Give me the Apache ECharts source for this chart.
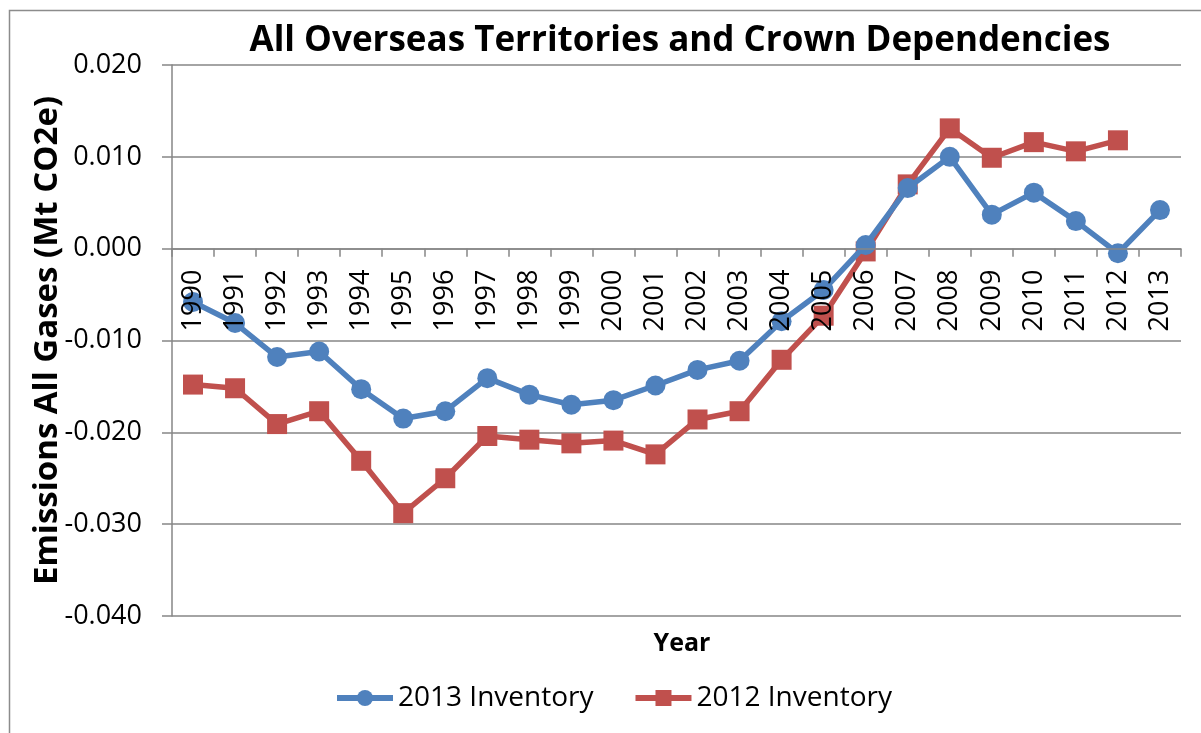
<!DOCTYPE html>
<html>
<head>
<meta charset="utf-8">
<script src="https://cdn.jsdelivr.net/npm/echarts@6/dist/echarts.min.js"></script>
<style>html,body{margin:0;padding:0;background:#fff;}#c{width:1201px;height:733px;}</style>
</head>
<body>
<div id="c"></div>
<script>
const years = ['1990','1991','1992','1993','1994','1995','1996','1997','1998','1999','2000','2001','2002','2003','2004','2005','2006','2007','2008','2009','2010','2011','2012','2013'];
const inv2013 = [-0.0058,-0.0081,-0.0118,-0.0112,-0.0153,-0.0185,-0.0177,-0.0141,-0.0159,-0.0170,-0.0165,-0.0149,-0.0132,-0.0122,-0.0079,-0.0045,0.0004,0.0066,0.0100,0.0037,0.0061,0.0030,-0.0005,0.0042];
const inv2012 = [-0.0148,-0.0152,-0.0191,-0.0177,-0.0231,-0.0288,-0.0250,-0.0204,-0.0208,-0.0212,-0.0209,-0.0224,-0.0186,-0.0177,-0.0121,-0.0073,-0.0003,0.0070,0.0131,0.0099,0.0116,0.0106,0.0118,null];
const seriesNames = ['2013 Inventory','2012 Inventory'];
const yTicks = {min:-0.04, max:0.02, interval:0.01};

const FONT = '"Open Sans"';
const GRID = {left:172, right:20, top:65, bottom:117};
const plotH = 733 - GRID.top - GRID.bottom;
// place the category axis line at value 0 of the value axis
const zeroOffset = -plotH * (0 - yTicks.min) / (yTicks.max - yTicks.min);

const chart = echarts.init(document.getElementById('c'));
chart.setOption({
  animation:false,
  backgroundColor:'#fff',
  graphic:[{type:'rect',shape:{x:9.5,y:10.5,width:1200,height:730},style:{fill:'none',stroke:'#8c8c8c',lineWidth:1.5},silent:true,z:-1}],
  title:[
    {text:'All Overseas Territories and Crown Dependencies',left:675,top:19,textAlign:'center',
     textStyle:{fontFamily:FONT,fontWeight:'bold',fontSize:35,color:'#000'}},
    {text:'Year',left:677,top:626,textAlign:'center',
     textStyle:{fontFamily:FONT,fontWeight:'bold',fontSize:25,color:'#000'}}
  ],
  legend:{
    left:329, top:679, itemWidth:56, itemHeight:20, itemGap:39,
    textStyle:{fontFamily:FONT,fontSize:28,color:'#000'},
    lineStyle:{width:6},
    data:seriesNames
  },
  grid:Object.assign({containLabel:false}, GRID),
  xAxis:{
    type:'category', data:years, boundaryGap:true, position:'bottom', offset:zeroOffset, z:10,
    axisLine:{onZero:false,lineStyle:{color:'#868686',width:1.5}},
    axisTick:{show:true,length:8,lineStyle:{color:'#868686',width:1.5}},
    axisLabel:{rotate:90,margin:21,interval:0,fontFamily:FONT,fontSize:27,color:'#000'}
  },
  yAxis:{
    type:'value', min:yTicks.min, max:yTicks.max, interval:yTicks.interval,
    name:'Emissions All Gases (Mt CO2e)', nameLocation:'middle', nameGap:108, nameRotate:90,
    nameMoveOverlap:false,
    nameTextStyle:{fontFamily:FONT,fontWeight:'bold',fontSize:33,color:'#000'},
    axisLine:{show:true,lineStyle:{color:'#868686',width:1.5}},
    axisTick:{show:true,length:10,lineStyle:{color:'#868686',width:1.5}},
    splitLine:{show:true,lineStyle:{color:'#868686',width:1.5}},
    axisLabel:{margin:30,fontFamily:FONT,fontSize:27,color:'#000',formatter:v=>v.toFixed(3)}
  },
  series:[
    {name:seriesNames[0],type:'line',data:inv2013,symbol:'circle',symbolSize:20,
     lineStyle:{color:'#4F81BD',width:5.5},itemStyle:{color:'#4F81BD'},z:3},
    {name:seriesNames[1],type:'line',data:inv2012,symbol:'rect',symbolSize:20,
     lineStyle:{color:'#C0504D',width:5.5},itemStyle:{color:'#C0504D'},z:2}
  ]
});
</script>
</body>
</html>
